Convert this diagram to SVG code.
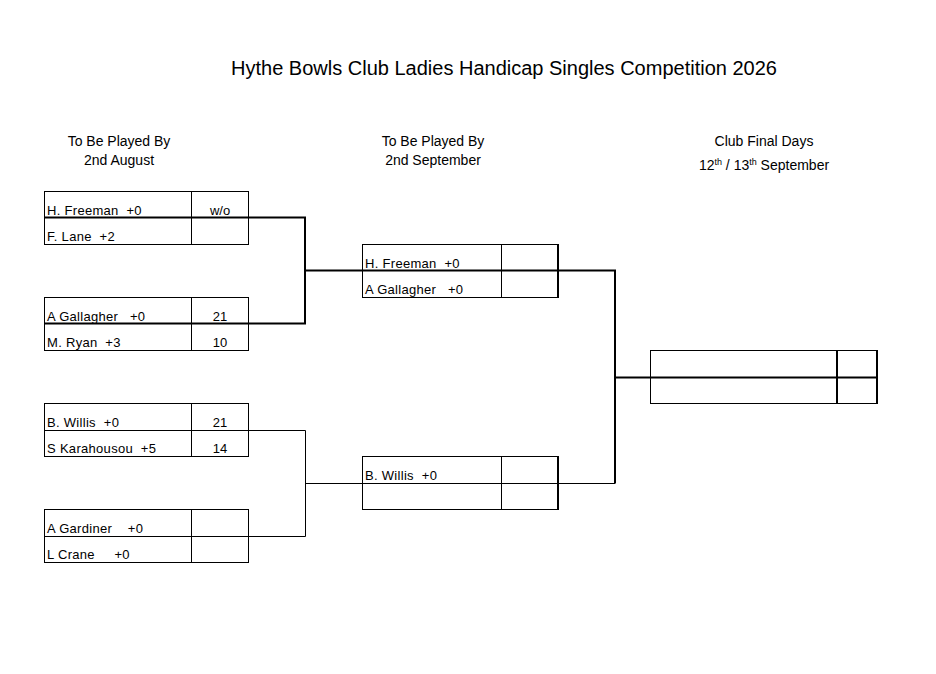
<svg xmlns="http://www.w3.org/2000/svg" width="936" height="674" viewBox="0 0 936 674">
<style>
text{font-family:"Liberation Sans",Arial,sans-serif;fill:#000;white-space:pre}
.t{font-size:20px;text-anchor:middle}
.h{font-size:14px;text-anchor:middle}
.n{font-size:13px;letter-spacing:0.3px}
.s{font-size:13px;text-anchor:middle}
.thin{stroke:#000;stroke-width:1;fill:none}
.thick{stroke:#000;stroke-width:2;fill:none}
</style>
<rect width="936" height="674" fill="#fff"/>
<text class="t" x="504" y="75">Hythe Bowls Club Ladies Handicap Singles Competition 2026</text>
<g id="headers">
<text class="h" x="119" y="146">To Be Played By</text>
<text class="h" x="119" y="165">2nd August</text>
<text class="h" x="433" y="146">To Be Played By</text>
<text class="h" x="433" y="165">2nd September</text>
<text class="h" x="764" y="146">Club Final Days</text>
<text class="h" x="764" y="170">12<tspan font-size="9" dy="-5">th</tspan><tspan dy="5"> / 13</tspan><tspan font-size="9" dy="-5">th</tspan><tspan dy="5"> September</tspan></text>
</g>
<g id="connectors">
<path class="thick" d="M248 217.5H305V323.5H248M305 270.5H362"/>
<path class="thin" d="M248 430.5H305.5V536.5H248M305 483.5H362"/>
<path class="thick" d="M558 270.5H615V483.5M615 377.5H650"/>
<path class="thin" d="M558 483.5H615"/>
</g>
<g id="m1">
<rect class="thin" x="44.5" y="191.5" width="204" height="53"/>
<path class="thin" d="M191.5 191V244"/>
<path class="thick" d="M44 217.5H248"/>
<text class="n" x="47" y="215">H. Freeman  +0</text>
<text class="n" x="47" y="241">F. Lane  +2</text>
<text class="s" x="220" y="215">w/o</text>
</g>
<g id="m2">
<rect class="thin" x="44.5" y="297.5" width="204" height="53"/>
<path class="thin" d="M191.5 297V350"/>
<path class="thick" d="M44 323.5H248"/>
<text class="n" x="47" y="321">A Gallagher   +0</text>
<text class="n" x="47" y="347">M. Ryan  +3</text>
<text class="s" x="220" y="321">21</text>
<text class="s" x="220" y="347">10</text>
</g>
<g id="m3">
<rect class="thin" x="44.5" y="403.5" width="204" height="53"/>
<path class="thin" d="M191.5 403V456M44 430.5H248"/>
<text class="n" x="47" y="427">B. Willis  +0</text>
<text class="n" x="47" y="453">S Karahousou  +5</text>
<text class="s" x="220" y="427">21</text>
<text class="s" x="220" y="453">14</text>
</g>
<g id="m4">
<rect class="thin" x="44.5" y="509.5" width="204" height="53"/>
<path class="thin" d="M191.5 509V562M44 536.5H248"/>
<text class="n" x="47" y="533">A Gardiner    +0</text>
<text class="n" x="47" y="559">L Crane     +0</text>
</g>
<g id="sf1">
<rect class="thin" x="362.5" y="244.5" width="196" height="53"/>
<path class="thin" d="M501.5 244V297"/>
<path class="thick" d="M558 244V298M362 270.5H558"/>
<text class="n" x="365" y="268">H. Freeman  +0</text>
<text class="n" x="365" y="294">A Gallagher   +0</text>
</g>
<g id="sf2">
<rect class="thin" x="362.5" y="456.5" width="196" height="53"/>
<path class="thin" d="M501.5 456V509M362 483.5H558"/>
<path class="thick" d="M558 456V510"/>
<text class="n" x="365" y="480">B. Willis  +0</text>
</g>
<g id="final">
<rect class="thin" x="650.5" y="350.5" width="227" height="53"/>
<path class="thick" d="M650 377.5H878M837 350V404M877 350V404"/>
</g>
</svg>
